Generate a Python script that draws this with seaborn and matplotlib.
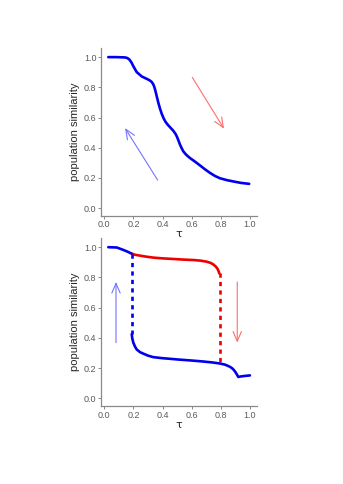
import matplotlib
matplotlib.use("Agg")
import matplotlib.pyplot as plt
import seaborn as sns

# top panel: single curve
top_tau = [0.027, 0.08, 0.142, 0.158, 0.172, 0.186, 0.199, 0.222, 0.257, 0.285, 0.31,
           0.325, 0.336, 0.344, 0.352, 0.36, 0.371, 0.382, 0.394, 0.407, 0.42, 0.435,
           0.45, 0.474, 0.49, 0.5, 0.51, 0.52, 0.531, 0.542, 0.556, 0.57, 0.588, 0.62,
           0.657, 0.69, 0.725, 0.76, 0.794, 0.84, 0.885, 0.94, 0.995]
top_sim = [1.0, 1.0, 0.998, 0.994, 0.984, 0.965, 0.94, 0.901, 0.872, 0.859, 0.847,
           0.836, 0.82, 0.8, 0.772, 0.74, 0.697, 0.66, 0.625, 0.595, 0.572, 0.553,
           0.537, 0.512, 0.49, 0.47, 0.445, 0.42, 0.397, 0.377, 0.36, 0.347, 0.332, 0.31,
           0.283, 0.258, 0.234, 0.213, 0.198, 0.186, 0.177, 0.167, 0.161]

# bottom panel: hysteresis loop
low_tau_a = [0.027, 0.085, 0.13, 0.16, 0.186]
low_sim_a = [1.0, 0.998, 0.982, 0.97, 0.958]
low_tau_b = [0.188, 0.192, 0.199, 0.21, 0.222, 0.245, 0.268, 0.3, 0.336, 0.4, 0.451,
             0.51, 0.566, 0.62, 0.68, 0.74, 0.794, 0.83, 0.863, 0.882, 0.897,
             0.91, 0.92, 0.943, 0.97, 1.0]
low_sim_b = [0.424, 0.395, 0.368, 0.343, 0.323, 0.305, 0.295, 0.282, 0.272, 0.265, 0.261,
             0.256, 0.252, 0.248, 0.243, 0.237, 0.23, 0.222, 0.208, 0.195, 0.178,
             0.158, 0.141, 0.145, 0.148, 0.151]
up_tau = [0.186, 0.21, 0.245, 0.29, 0.336, 0.4, 0.474, 0.54, 0.611, 0.66, 0.703,
          0.73, 0.748, 0.765, 0.776, 0.784, 0.79]
up_sim = [0.958, 0.95, 0.944, 0.937, 0.931, 0.926, 0.922, 0.918, 0.915, 0.911, 0.904,
          0.896, 0.886, 0.872, 0.859, 0.843, 0.826]
jump_blue = ([0.188, 0.188], [0.958, 0.424])
jump_red = ([0.792, 0.792], [0.826, 0.23])

# arrows (start, end)
top_red_arrow = ((0.604, 0.866), (0.822, 0.526))
top_blue_arrow = ((0.366, 0.186), (0.142, 0.53))
bot_blue_arrow = ((0.080, 0.368), (0.080, 0.77))
bot_red_arrow = ((0.913, 0.77), (0.913, 0.368))

ticks = [0.0, 0.2, 0.4, 0.6, 0.8, 1.0]
tick_labels = ["0.0", "0.2", "0.4", "0.6", "0.8", "1.0"]

BLUE = "#0000EE"
RED = "#EE0000"
LBLUE = "#7474FF"
LRED = "#FF6E6E"

sns.set_style("white")
plt.rcParams["font.family"] = ["Liberation Sans", "DejaVu Sans"]

fig = plt.figure(figsize=(3.43, 4.84), dpi=100)
ax1 = fig.add_axes([0.2945, 0.5537, 0.4545, 0.347])
ax2 = fig.add_axes([0.2945, 0.161, 0.4545, 0.347])
ax2.patch.set_alpha(0)


def style(ax):
    ax.set_xlim(-0.023, 1.048)
    ax.set_ylim(-0.052, 1.06)
    ax.set_xticks(ticks)
    ax.set_xticklabels(tick_labels)
    ax.set_yticks(ticks)
    ax.set_yticklabels(tick_labels)
    for s in ["top", "right"]:
        ax.spines[s].set_visible(False)
    for s in ["left", "bottom"]:
        ax.spines[s].set_color("#8a8a8a")
        ax.spines[s].set_linewidth(0.9)
    ax.tick_params(axis="both", length=2.0, width=0.7, color="#8a8a8a",
                   labelsize=6.5, labelcolor="#5a5a5a", pad=1.2, direction="out")
    ax.tick_params(left=True, bottom=True)
    ax.set_xlabel("τ", fontsize=8, labelpad=0, family=["DejaVu Sans"])
    ax.set_ylabel("population similarity", fontsize=8, labelpad=3)


def arrow(ax, a, color):
    ax.annotate("", xy=a[1], xytext=a[0],
                arrowprops=dict(arrowstyle="->,head_length=0.7,head_width=0.3",
                                color=color, lw=0.8, shrinkA=0, shrinkB=0))


line_kw = dict(linewidth=1.9, sort=False, solid_capstyle="round", solid_joinstyle="round")

sns.lineplot(x=top_tau, y=top_sim, ax=ax1, color=BLUE, **line_kw)
arrow(ax1, top_red_arrow, LRED)
arrow(ax1, top_blue_arrow, LBLUE)
style(ax1)

sns.lineplot(x=up_tau, y=up_sim, ax=ax2, color=RED, **line_kw)
sns.lineplot(x=low_tau_a, y=low_sim_a, ax=ax2, color=BLUE, **line_kw)
sns.lineplot(x=low_tau_b, y=low_sim_b, ax=ax2, color=BLUE, **line_kw)
ax2.plot(jump_blue[0], jump_blue[1], color=BLUE, linewidth=1.9, linestyle=(0, (1.6, 1.6)))
ax2.plot(jump_red[0], jump_red[1], color=RED, linewidth=1.9, linestyle=(0, (1.6, 1.6)))
arrow(ax2, bot_blue_arrow, LBLUE)
arrow(ax2, bot_red_arrow, LRED)
style(ax2)

fig.savefig("out.png", dpi=100)
